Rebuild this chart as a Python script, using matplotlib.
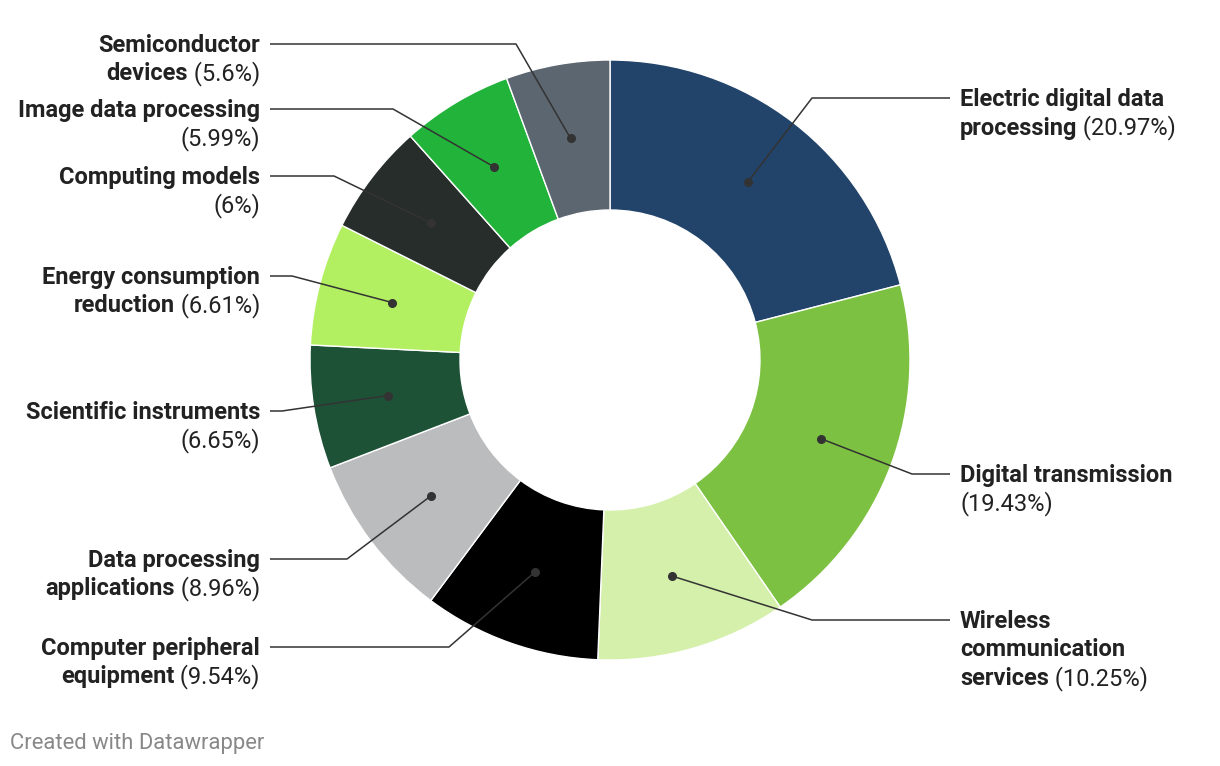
import matplotlib.pyplot as plt
import numpy as np

# data
names = ["Electric digital data\nprocessing", "Digital transmission",
         "Wireless\ncommunication\nservices", "Computer peripheral\nequipment",
         "Data processing\napplications", "Scientific instruments",
         "Energy consumption\nreduction", "Computing models",
         "Image data processing", "Semiconductor\ndevices"]
shares = [20.97, 19.43, 10.25, 9.54, 8.96, 6.65, 6.61, 6, 5.99, 5.6]
pct_text = ["20.97%", "19.43%", "10.25%", "9.54%", "8.96%", "6.65%",
            "6.61%", "6%", "5.99%", "5.6%"]
pct_own_line = [False, True, False, False, False, True, False, True, True, False]
colors = ["#22446a", "#7dc142", "#d4f0ab", "#000000", "#bbbcbe",
          "#1e5237", "#b3f061", "#262d2a", "#22b33a", "#5c6670"]

# label layout (pixel coords, y measured from top)
label_y = [98, 474, 620, 647, 559, 411, 276, 176, 109, 44]
elbow_x = [812, 912, 812, 449, 347, 282, 292, 334, 393, 516]

W, H = 1220, 766
cx, cy, R, ring = 610, H - 360, 300, 150

fig = plt.figure(figsize=(W / 100, H / 100), dpi=100)
ax = fig.add_axes([0, 0, 1, 1])
ax.set_xlim(0, W)
ax.set_ylim(0, H)
ax.set_aspect("equal")
ax.axis("off")

wedges, _ = ax.pie(shares, colors=colors, startangle=90, counterclock=False,
                   center=(cx, cy), radius=R,
                   wedgeprops=dict(width=ring, edgecolor="white", linewidth=1))
ax.set_xlim(0, W)
ax.set_ylim(0, H)

fig.canvas.draw()
renderer = fig.canvas.get_renderer()
txt_color = "#222222"
fs = 17
line_h = 28.5
fam = "Roboto"
dy_txt = 1.5  # nudge text down a touch


def text_width(s, weight):
    t = ax.text(0, 0, s, fontsize=fs, fontweight=weight, family=fam)
    bb = t.get_window_extent(renderer=renderer)
    t.remove()
    return bb.width


for i, w in enumerate(wedges):
    ang = np.deg2rad((w.theta1 + w.theta2) / 2)
    dx, dy = cx + 225 * np.cos(ang), cy + 225 * np.sin(ang)
    right = dx > cx
    ly = H - label_y[i]
    end_x = 950 if right else 270
    ax.plot([dx, elbow_x[i], end_x], [dy, ly, ly], color="#333333", lw=1.1,
            solid_capstyle="butt")
    ax.plot(dx, dy, "o", color="#333333", ms=5.5)

    lines = [[ln, ""] for ln in names[i].split("\n")]
    if pct_own_line[i]:
        lines.append(["", "(" + pct_text[i] + ")"])
    else:
        lines[-1][1] = " (" + pct_text[i] + ")"

    for k, (b, n) in enumerate(lines):
        y = ly - k * line_h - dy_txt
        if right:
            x0 = 960
            if b:
                ax.text(x0, y, b, fontsize=fs, fontweight="bold", family=fam,
                        color=txt_color, ha="left", va="center")
                x0 += text_width(b, "bold")
            if n:
                ax.text(x0, y, n, fontsize=fs, family=fam, color=txt_color,
                        ha="left", va="center")
        else:
            x0 = 260
            if n:
                ax.text(x0, y, n, fontsize=fs, family=fam, color=txt_color,
                        ha="right", va="center")
                x0 -= text_width(n, "normal")
            if b:
                ax.text(x0, y, b, fontsize=fs, fontweight="bold", family=fam,
                        color=txt_color, ha="right", va="center")

ax.text(10, H - 743.5, "Created with Datawrapper", fontsize=15.8, family=fam,
        color="#888888", ha="left", va="center")

fig.savefig("out.png", dpi=100, facecolor="white")
